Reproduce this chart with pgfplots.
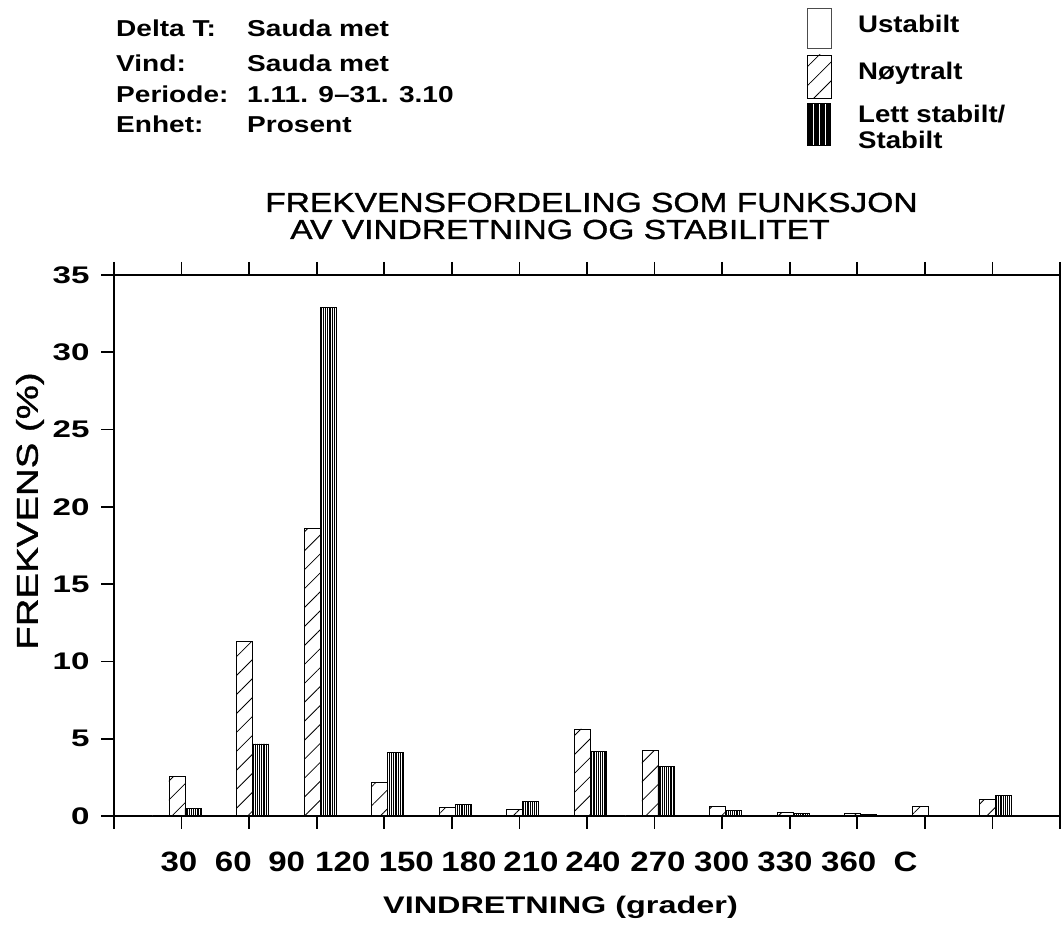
\documentclass[border=0pt]{standalone}
\usepackage{pgfplots}
\pgfplotsset{compat=1.18}
\usetikzlibrary{patterns.meta}
\usepackage{fontspec}
\setmainfont{Liberation Sans}
\newfontfamily\titlef{Liberation Sans}[FakeStretch=1.22, FakeBold=1.2]
\newfontfamily\hdrf{Liberation Sans}[FakeStretch=1.22]
\newfontfamily\legf{Liberation Sans}[FakeStretch=1.15]
\newfontfamily\ytf{Liberation Sans}[FakeStretch=1.38]
\newfontfamily\xtf{Liberation Sans}[FakeStretch=1.18]
\newfontfamily\labf{Liberation Sans}[FakeStretch=1.35]
\newfontfamily\ylabf{Liberation Sans}[FakeStretch=1.28, FakeBold=1.2]

\tikzset{
  hatch/.style={pattern={Lines[angle=45,distance=13.4pt,line width=0.8pt]}},
  vlines/.style={pattern={Lines[angle=90,distance=2.2pt,line width=1.2pt]}},
}

\begin{document}
\begin{tikzpicture}[x=1pt,y=1pt]
\path[use as bounding box] (0,0) rectangle (1061,931);

% header block
\begin{scope}[every node/.style={anchor=base west, inner sep=0pt, font=\hdrf\bfseries\fontsize{23}{26}\selectfont}]
\node at (116,894) {Delta T:};   \node at (247,894) {Sauda met};
\node at (116,859.5) {Vind:};    \node at (247,859.5) {Sauda met};
\node at (116,828.5) {Periode:}; \node at (247,828.5) {1.11. 9–31. 3.10};
\node at (116,798) {Enhet:};     \node at (247,798) {Prosent};
\end{scope}

% legend
\draw[line width=0.9pt, black!70] (807,883) rectangle (831,923);
\begin{scope}
\clip (807,833) rectangle (831,876);
\fill[hatch] (807,833) rectangle (831,876);
\end{scope}
\draw[line width=0.9pt] (807,833) rectangle (831,876);
\fill[black] (807,785) rectangle (831,828);
\foreach \xx in {813,819,825} \draw[white, line width=0.7pt] (\xx,786) -- (\xx,827);
\begin{scope}[every node/.style={anchor=base west, inner sep=0pt, font=\legf\bfseries\fontsize{24}{26}\selectfont}]
\node at (858,898) {Ustabilt};
\node at (858,851) {Nøytralt};
\node at (858,808.3) {Lett stabilt/};
\node at (858,782.7) {Stabilt};
\end{scope}

% title
\begin{scope}[every node/.style={anchor=base west, inner sep=0pt, font=\titlef\fontsize{27.5}{30}\selectfont}]
\node at (265,719) {FREKVENSFORDELING SOM FUNKSJON};
\node at (290,692) {AV VINDRETNING OG STABILITET};
\end{scope}

\begin{axis}[
  at={(114pt,115pt)}, anchor=south west,
  width=946pt, height=541pt, scale only axis,
  xmin=0, xmax=14, ymin=0, ymax=35,
  xtick={0,...,14}, xticklabels={},
  ytick={0,5,...,35},
  tick align=outside, tick pos=both,
  major tick length=13pt,
  axis line style={line width=1.8pt},
  every tick/.style={black, line width=1.6pt},
  /pgf/number format/assume math mode=true,
  yticklabel style={font=\ytf\bfseries\fontsize{24}{26}\selectfont, xshift=-8pt},
  extra x ticks={0.962,1.766,2.556,3.386,4.326,5.254,6.171,7.089,8.051,8.994,9.930,10.873,11.714},
  extra x tick labels={30,60,90,120,150,180,210,240,270,300,330,360,C},
  extra x tick style={major tick length=0pt,
    tick label style={font=\xtf\bfseries\fontsize{28}{30}\selectfont, anchor=base, yshift=-56pt}},
  clip=false,
]
% Ustabilt
\addplot[ybar, bar width=16pt, bar shift=-20.6pt, draw=black, line width=0.8pt, fill=white]
coordinates {(1,0.05) (2,0.05) (3,0.05) (4,0.05) (5,0.05) (6,0.05) (7,0.05)
  (8,0.05) (9,0.05) (10,0.05) (11,0.05) (12,0.05) (13,0.05)};
% Noeytralt
\addplot[ybar, bar width=16pt, bar shift=-4.6pt, draw=black, line width=0.8pt, hatch]
coordinates {(1,2.54) (2,11.27) (3,18.61) (4,2.16) (5,0.56) (6,0.45) (7,5.63)
  (8,4.25) (9,0.63) (10,0.24) (11,0.17) (12,0.63) (13,1.05)};
% Lett stabilt / Stabilt
\addplot[ybar, bar width=16pt, bar shift=11.4pt, draw=black, line width=0.8pt, vlines]
coordinates {(1,0.50) (2,4.66) (3,32.88) (4,4.12) (5,0.75) (6,0.97) (7,4.18)
  (8,3.21) (9,0.37) (10,0.15) (11,0.08) (12,0.06) (13,1.34)};
\end{axis}

% axis labels
\node[anchor=base west, inner sep=0pt, font=\labf\bfseries\fontsize{24}{26}\selectfont] at (383,17) {VINDRETNING (grader)};
\node[rotate=90, inner sep=0pt, font=\ylabf\fontsize{30}{32}\selectfont] at (30,420) {FREKVENS (\%)};
\end{tikzpicture}
\end{document}
